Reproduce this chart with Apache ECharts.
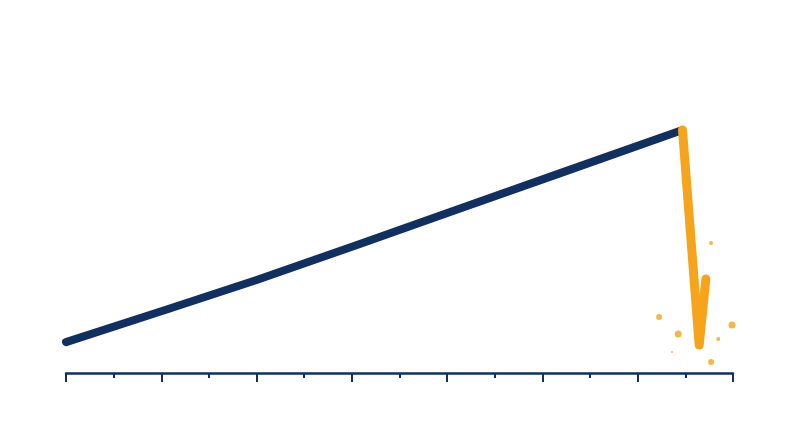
<!DOCTYPE html>
<html>
<head>
<meta charset="utf-8">
<script src="https://cdn.jsdelivr.net/npm/echarts@6/dist/echarts.min.js"></script>
<style>
  html, body { margin: 0; padding: 0; background: #fff; }
  #chart { width: 800px; height: 447px; }
</style>
</head>
<body>
<div id="chart"></div>
<script>
// 上升段（深蓝）
var risePoints = [[0, 10.3], [4, 31], [8.3, 55], [12.94, 81]]
// 暴跌段（橙色）
var crashPoints = [[12.94, 81], [13.29, 9.3], [13.43, 31.3]]
// 散落的小点
var sparkPoints = [[12.45, 18.7], [12.85, 13], [12.72, 7], [13.54, 43.3], [13.69, 11.3], [13.98, 16], [13.54, 3.7]]
var sparkSize = [6, 7, 2, 4, 4, 7, 6]

var navy = '#11305f'
var orange = '#f5a41c'

var myChart = echarts.init(document.getElementById('chart'))
var option = {
  animation: false,
  grid: {
    left: 66,
    right: 67,
    top: 73,
    bottom: 74
  },
  xAxis: {
    type: 'value',
    min: 0,
    max: 14,
    interval: 2,
    axisLine: {
      show: true,
      lineStyle: { color: navy, width: 2.5 }
    },
    axisTick: {
      show: true,
      length: 9,
      lineStyle: { color: navy, width: 2 }
    },
    minorTick: {
      show: true,
      splitNumber: 2,
      length: 5,
      lineStyle: { color: navy, width: 2 }
    },
    axisLabel: { show: false },
    splitLine: { show: false },
    minorSplitLine: { show: false }
  },
  yAxis: {
    type: 'value',
    min: 0,
    max: 100,
    show: false
  },
  series: [
    {
      type: 'line',
      data: risePoints,
      smooth: 0.25,
      showSymbol: false,
      clip: false,
      lineStyle: { color: navy, width: 8, cap: 'round', join: 'round' }
    },
    {
      type: 'line',
      data: crashPoints,
      showSymbol: false,
      clip: false,
      lineStyle: { color: orange, width: 9, cap: 'round', join: 'round' }
    },
    {
      type: 'scatter',
      data: sparkPoints,
      clip: false,
      symbol: 'circle',
      symbolSize: function (val, params) {
        return sparkSize[params.dataIndex]
      },
      itemStyle: { color: orange }
    }
  ]
}
myChart.setOption(option)
window.addEventListener('resize', function () {
  myChart.resize()
})
</script>
</body>
</html>
